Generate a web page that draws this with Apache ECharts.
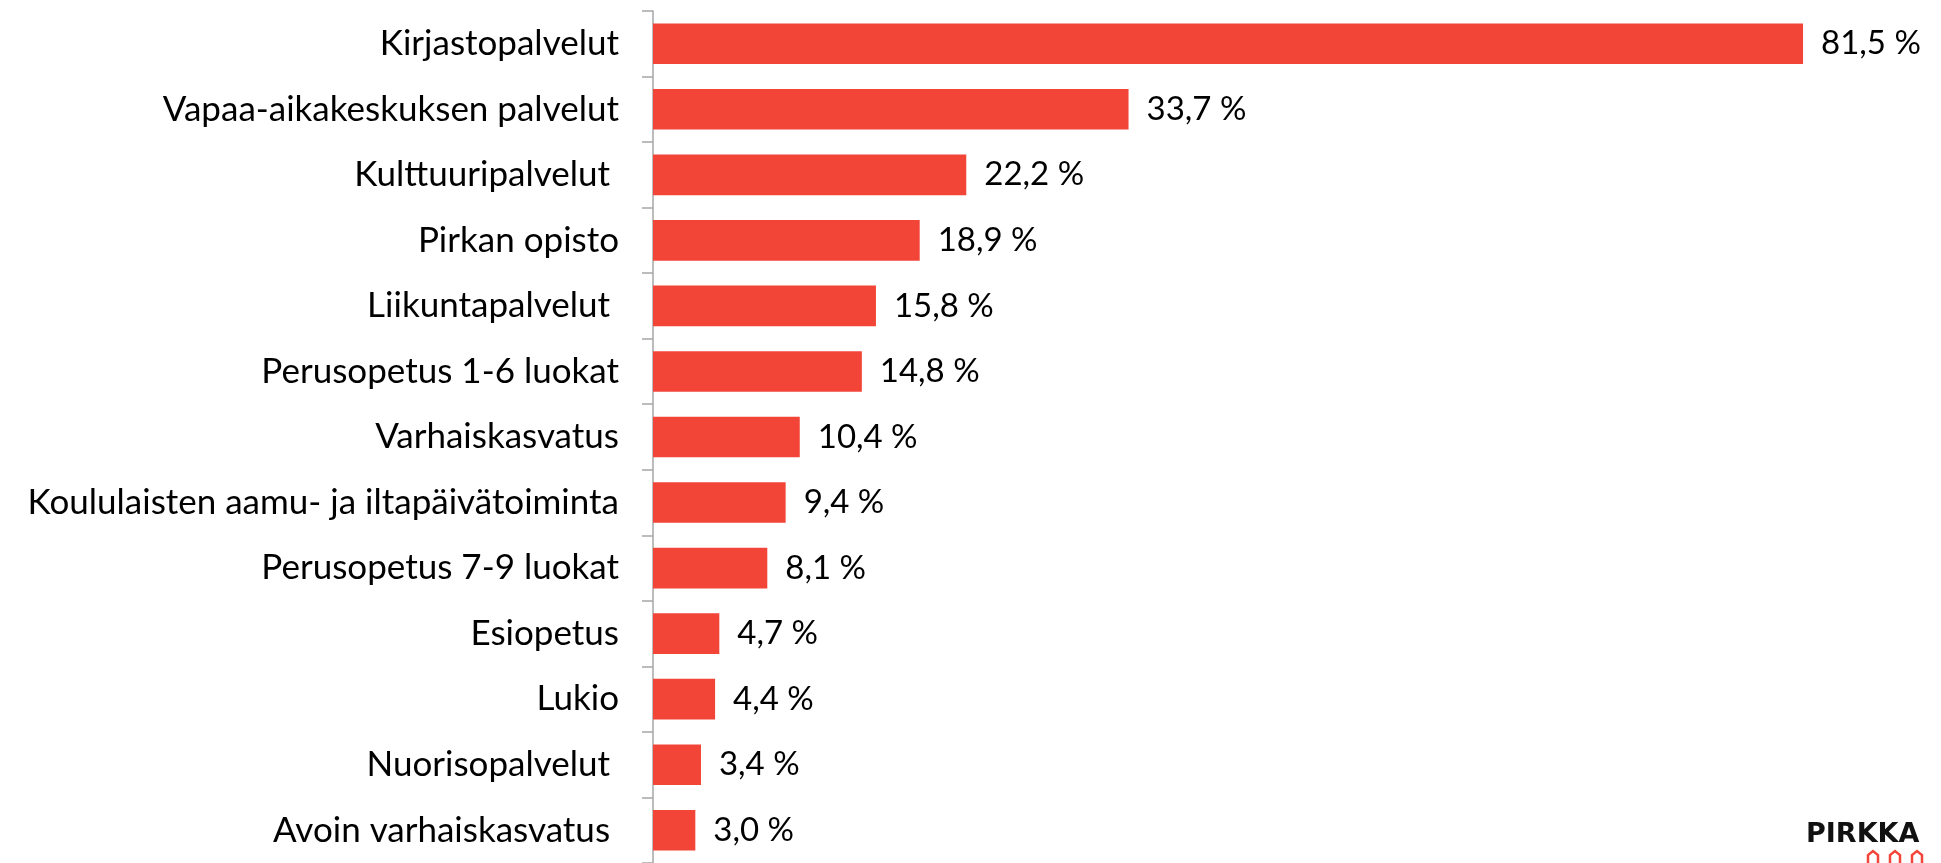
<!DOCTYPE html>
<html>
<head>
<meta charset="utf-8">
<style>
  html, body { margin: 0; padding: 0; background: #fff; }
  #chart { width: 1941px; height: 863px; }
</style>
<script src="https://cdn.jsdelivr.net/npm/echarts@6/dist/echarts.min.js"></script>
</head>
<body>
<div id="chart"></div>
<script>
// palvelut, ylhäältä alas
var categories = [
  'Kirjastopalvelut',
  'Vapaa-aikakeskuksen palvelut',
  'Kulttuuripalvelut ',
  'Pirkan opisto',
  'Liikuntapalvelut ',
  'Perusopetus 1-6 luokat',
  'Varhaiskasvatus',
  'Koululaisten aamu- ja iltapäivätoiminta',
  'Perusopetus 7-9 luokat',
  'Esiopetus',
  'Lukio',
  'Nuorisopalvelut ',
  'Avoin varhaiskasvatus '
];
var values = [81.5, 33.7, 22.2, 18.9, 15.8, 14.8, 10.4, 9.4, 8.1, 4.7, 4.4, 3.4, 3.0];

var font = 'Lato';
var myChart = echarts.init(document.getElementById('chart'));

// pieni logon talokuvio (kolme kattoa)
function house(x) {
  return {
    type: 'polyline',
    shape: { points: [[x, 866], [x, 855], [x + 5, 851], [x + 10, 855], [x + 10, 866]] },
    style: { stroke: '#F24538', lineWidth: 2.5, fill: null }
  };
}

var option = {
  animation: false,
  textStyle: { fontFamily: font },
  grid: {
    left: 653,
    right: 18,
    top: 11,
    bottom: -6
  },
  xAxis: {
    type: 'value',
    min: 0,
    max: 90,
    axisLabel: { show: false },
    axisLine: { show: false },
    axisTick: { show: false },
    splitLine: { show: false }
  },
  yAxis: {
    type: 'category',
    inverse: true,
    data: categories,
    axisLine: { show: true, lineStyle: { color: '#a6a6a6', width: 1.5 } },
    axisTick: { show: true, length: 11, lineStyle: { color: '#a6a6a6', width: 1.5 } },
    axisLabel: {
      margin: 34,
      fontSize: 35,
      color: '#000',
      fontFamily: font
    }
  },
  series: [
    {
      type: 'bar',
      data: values,
      barCategoryGap: '38%',
      itemStyle: { color: '#F24538' },
      label: {
        show: true,
        position: 'right',
        distance: 18,
        fontSize: 33,
        color: '#000',
        fontFamily: font,
        formatter: function (p) {
          return p.value.toFixed(1).replace('.', ',') + ' %';
        }
      }
    }
  ],
  graphic: [
    {
      type: 'text',
      left: 1806,
      top: 821,
      style: {
        text: 'PIRKKA',
        font: 'bold 27px "DejaVu Sans"',
        fill: '#111'
      }
    },
    house(1868),
    house(1890),
    house(1912)
  ]
};

myChart.setOption(option, true);
</script>
</body>
</html>
